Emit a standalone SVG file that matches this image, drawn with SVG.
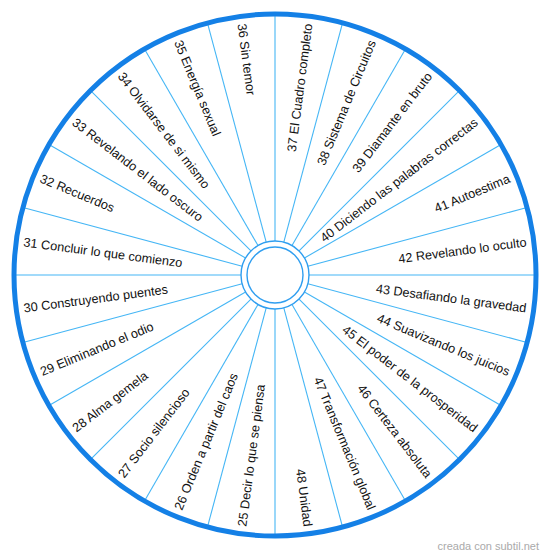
<svg xmlns="http://www.w3.org/2000/svg" width="550" height="559" viewBox="0 0 550 559">
<style>
.sp{stroke:#45b6f5;stroke-width:1.1;fill:none}
.ring{stroke:#2f9ef0;stroke-width:1.4;fill:none}
.rim{stroke:#1480e6;stroke-width:5;fill:none}
.lbl{font-family:"Liberation Sans",Arial,sans-serif;font-size:12.7px;fill:#111}
.r{text-anchor:end}
.l{text-anchor:start}
.credit{font-family:"Liberation Sans",Arial,sans-serif;font-size:11px;fill:#aaaaaa}
</style>
<rect width="550" height="559" fill="#ffffff"/>
<g id="connectors" transform="translate(275 275)">
<g id="spokes">
<line class="sp" x1="0" y1="-34" x2="0" y2="-259" transform="rotate(0)"/>
<line class="sp" x1="0" y1="-34" x2="0" y2="-259" transform="rotate(15)"/>
<line class="sp" x1="0" y1="-34" x2="0" y2="-259" transform="rotate(30)"/>
<line class="sp" x1="0" y1="-34" x2="0" y2="-259" transform="rotate(45)"/>
<line class="sp" x1="0" y1="-34" x2="0" y2="-259" transform="rotate(60)"/>
<line class="sp" x1="0" y1="-34" x2="0" y2="-259" transform="rotate(75)"/>
<line class="sp" x1="0" y1="-34" x2="0" y2="-259" transform="rotate(90)"/>
<line class="sp" x1="0" y1="-34" x2="0" y2="-259" transform="rotate(105)"/>
<line class="sp" x1="0" y1="-34" x2="0" y2="-259" transform="rotate(120)"/>
<line class="sp" x1="0" y1="-34" x2="0" y2="-259" transform="rotate(135)"/>
<line class="sp" x1="0" y1="-34" x2="0" y2="-259" transform="rotate(150)"/>
<line class="sp" x1="0" y1="-34" x2="0" y2="-259" transform="rotate(165)"/>
<line class="sp" x1="0" y1="-34" x2="0" y2="-259" transform="rotate(180)"/>
<line class="sp" x1="0" y1="-34" x2="0" y2="-259" transform="rotate(195)"/>
<line class="sp" x1="0" y1="-34" x2="0" y2="-259" transform="rotate(210)"/>
<line class="sp" x1="0" y1="-34" x2="0" y2="-259" transform="rotate(225)"/>
<line class="sp" x1="0" y1="-34" x2="0" y2="-259" transform="rotate(240)"/>
<line class="sp" x1="0" y1="-34" x2="0" y2="-259" transform="rotate(255)"/>
<line class="sp" x1="0" y1="-34" x2="0" y2="-259" transform="rotate(270)"/>
<line class="sp" x1="0" y1="-34" x2="0" y2="-259" transform="rotate(285)"/>
<line class="sp" x1="0" y1="-34" x2="0" y2="-259" transform="rotate(300)"/>
<line class="sp" x1="0" y1="-34" x2="0" y2="-259" transform="rotate(315)"/>
<line class="sp" x1="0" y1="-34" x2="0" y2="-259" transform="rotate(330)"/>
<line class="sp" x1="0" y1="-34" x2="0" y2="-259" transform="rotate(345)"/>
</g>
</g>
<g id="wheel">
<circle class="rim" cx="275" cy="275" r="261"/>
<circle class="ring" cx="275" cy="275" r="34"/>
<circle class="ring" cx="275" cy="275" r="28"/>
</g>
<g id="labels" transform="translate(275 275)">
<g id="n25"><text class="lbl l" x="-253.5" y="0" dy="0.35em" transform="rotate(-82.5)">25 Decir lo que se piensa</text></g>
<g id="n26"><text class="lbl l" x="-253.5" y="0" dy="0.35em" transform="rotate(-67.5)">26 Orden a partir del caos</text></g>
<g id="n27"><text class="lbl l" x="-253.5" y="0" dy="0.35em" transform="rotate(-52.5)">27 Socio silencioso</text></g>
<g id="n28"><text class="lbl l" x="-253.5" y="0" dy="0.35em" transform="rotate(-37.5)">28 Alma gemela</text></g>
<g id="n29"><text class="lbl l" x="-253.5" y="0" dy="0.35em" transform="rotate(-22.5)">29 Eliminando el odio</text></g>
<g id="n30"><text class="lbl l" x="-253.5" y="0" dy="0.35em" transform="rotate(-7.5)">30 Construyendo puentes</text></g>
<g id="n31"><text class="lbl l" x="-253.5" y="0" dy="0.35em" transform="rotate(7.5)">31 Concluir lo que comienzo</text></g>
<g id="n32"><text class="lbl l" x="-253.5" y="0" dy="0.35em" transform="rotate(22.5)">32 Recuerdos</text></g>
<g id="n33"><text class="lbl l" x="-253.5" y="0" dy="0.35em" transform="rotate(37.5)">33 Revelando el lado oscuro</text></g>
<g id="n34"><text class="lbl l" x="-253.5" y="0" dy="0.35em" transform="rotate(52.5)">34 Olvidarse de si mismo</text></g>
<g id="n35"><text class="lbl l" x="-253.5" y="0" dy="0.35em" transform="rotate(67.5)">35 Energía sexual</text></g>
<g id="n36"><text class="lbl l" x="-253.5" y="0" dy="0.35em" transform="rotate(82.5)">36 Sin temor</text></g>
<g id="n37"><text class="lbl r" x="253.5" y="0" dy="0.35em" transform="rotate(-82.5)">37 El Cuadro completo</text></g>
<g id="n38"><text class="lbl r" x="253.5" y="0" dy="0.35em" transform="rotate(-67.5)">38 Sistema de Circuitos</text></g>
<g id="n39"><text class="lbl r" x="253.5" y="0" dy="0.35em" transform="rotate(-52.5)">39 Diamante en bruto</text></g>
<g id="n40"><text class="lbl r" x="253.5" y="0" dy="0.35em" transform="rotate(-37.5)">40 Diciendo las palabras correctas</text></g>
<g id="n41"><text class="lbl r" x="253.5" y="0" dy="0.35em" transform="rotate(-22.5)">41 Autoestima</text></g>
<g id="n42"><text class="lbl r" x="253.5" y="0" dy="0.35em" transform="rotate(-7.5)">42 Revelando lo oculto</text></g>
<g id="n43"><text class="lbl r" x="253.5" y="0" dy="0.35em" transform="rotate(7.5)">43 Desafiando la gravedad</text></g>
<g id="n44"><text class="lbl r" x="253.5" y="0" dy="0.35em" transform="rotate(22.5)">44 Suavizando los juicios</text></g>
<g id="n45"><text class="lbl r" x="253.5" y="0" dy="0.35em" transform="rotate(37.5)">45 El poder de la prosperidad</text></g>
<g id="n46"><text class="lbl r" x="253.5" y="0" dy="0.35em" transform="rotate(52.5)">46 Certeza absoluta</text></g>
<g id="n47"><text class="lbl r" x="253.5" y="0" dy="0.35em" transform="rotate(67.5)">47 Transformación global</text></g>
<g id="n48"><text class="lbl r" x="253.5" y="0" dy="0.35em" transform="rotate(82.5)">48 Unidad</text></g>
</g>
<text id="credit" class="credit" x="539" y="550" text-anchor="end">creada con subtil.net</text>
</svg>
